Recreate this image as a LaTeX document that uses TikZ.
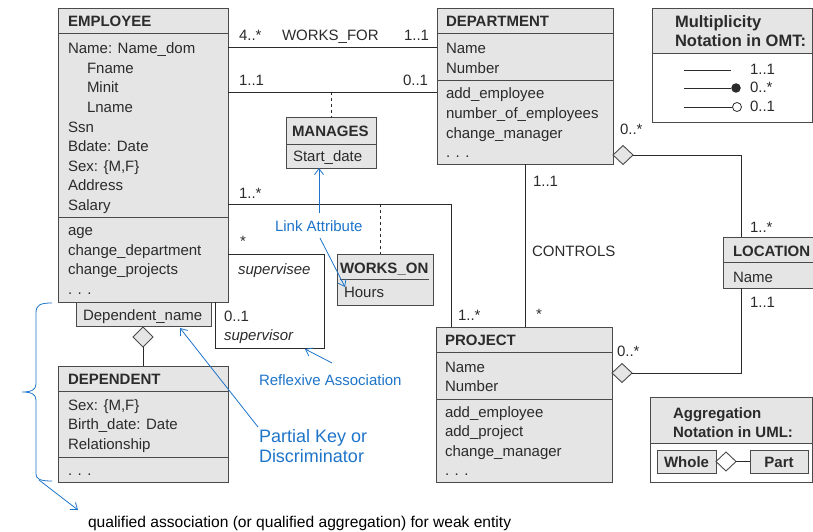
\documentclass[tikz,border=0pt]{standalone}
\usepackage{fontspec}
\setmainfont{Liberation Sans}
\usetikzlibrary{arrows.meta,shapes.geometric,calc}
\definecolor{boxfill}{HTML}{E5E5E5}
\definecolor{boxline}{HTML}{4A4A4A}
\definecolor{ink}{HTML}{2B2B2B}
\definecolor{notec}{HTML}{1E74C9}
\newcommand\txtlines[5]{%
  \foreach \t [count=\i] in {#5} \node[#2] (#1\i) at (#3, {#4+19.5*(\i-1)}) {\t};}
\begin{document}
\begin{tikzpicture}[x=1pt,y=-1pt,
  box/.style={draw=boxline, fill=boxfill, line width=1pt, inner sep=0pt, outer sep=0pt, anchor=north west},
  legend/.style={draw=boxline, fill=white, line width=1pt, inner sep=0pt, outer sep=0pt, anchor=north west},
  divider/.style={draw=boxline, line width=1pt},
  conn/.style={draw=ink, line width=0.9pt},
  dia/.style={diamond, draw=boxline, fill=boxfill, line width=0.9pt, inner sep=0pt, outer sep=0pt, minimum width=20pt, minimum height=19pt},
  txt/.style={anchor=base west, inner sep=0pt, outer sep=0pt, text=ink, font=\fontsize{15}{18}\selectfont},
  btxt/.style={txt, font=\fontsize{15}{18}\selectfont\bfseries},
  itxt/.style={txt, font=\fontsize{15}{18}\selectfont\itshape},
  ntxt/.style={txt, text=notec},
  narrow/.style={draw=notec, line width=0.8pt, -{Straight Barb[length=6pt,width=9pt]}}
]
\useasboundingbox (0,0) rectangle (813,532);

% ---------- EMPLOYEE ----------
\node[box, minimum width=170pt, minimum height=293pt] (emp) at (58,9) {};
\draw[divider] (emp.west |- 0,34) -- (emp.east |- 0,34);
\draw[divider] (emp.west |- 0,217) -- (emp.east |- 0,217);
\node[btxt] (empt) at (68,27) {EMPLOYEE};
\txtlines{ea}{txt}{68}{54}{{Name: Name\_dom},{\hspace*{19pt}Fname},{\hspace*{19pt}Minit},{\hspace*{19pt}Lname},Ssn,{Bdate: Date},{Sex: \{M,F\}},Address,Salary}
\txtlines{em}{txt}{68}{235.5}{age,{change\_department},{change\_projects},{. . .}}

% ---------- DEPARTMENT ----------
\node[box, minimum width=176pt, minimum height=155pt] (dept) at (437,9) {};
\draw[divider] (dept.west |- 0,34) -- (dept.east |- 0,34);
\draw[divider] (dept.west |- 0,81) -- (dept.east |- 0,81);
\node[btxt] (deptt) at (446,27) {DEPARTMENT};
\txtlines{da}{txt}{446}{54}{Name,Number}
\txtlines{dm}{txt}{446}{99}{{add\_employee},{number\_of\_employees},{change\_manager},{. . .}}

% ---------- MANAGES ----------
\node[box, minimum width=90pt, minimum height=50pt] (manages) at (286,118) {};
\draw[divider] (manages.west |- 0,144) -- (manages.east |- 0,144);
\node[btxt] (mant) at (292,136) {MANAGES};
\node[txt] (mana) at (293,161) {Start\_date};

% ---------- WORKS_ON ----------
\node[box, minimum width=96pt, minimum height=51pt] (workson) at (337,254) {};
\draw[divider] (340,279) -- (429,279);
\node[btxt] (wot) at (340,273) {WORKS\_ON};
\node[txt] (woa) at (344,297) {Hours};

% ---------- PROJECT ----------
\node[box, minimum width=176pt, minimum height=155pt] (proj) at (436,327) {};
\draw[divider] (proj.west |- 0,352) -- (proj.east |- 0,352);
\draw[divider] (proj.west |- 0,399) -- (proj.east |- 0,399);
\node[btxt] (projt) at (445,345) {PROJECT};
\txtlines{pa}{txt}{445}{372}{Name,Number}
\txtlines{pm}{txt}{445}{417}{{add\_employee},{add\_project},{change\_manager},{. . .}}

% ---------- LOCATION ----------
\node[box, minimum width=95pt, minimum height=51pt] (loc) at (723,237) {};
\draw[divider] (loc.west |- 0,262) -- (loc.east |- 0,262);
\node[btxt] (loct) at (733,256) {LOCATION};
\node[txt] (loca) at (733,282) {Name};

% ---------- Dependent_name qualifier ----------
\node[box, minimum width=135pt, minimum height=24pt] (depname) at (76,302) {};
\node[txt] (depnamet) at (83,320) {Dependent\_name};

% ---------- DEPENDENT ----------
\node[box, minimum width=170pt, minimum height=116pt] (dependent) at (58,366) {};
\draw[divider] (dependent.west |- 0,391) -- (dependent.east |- 0,391);
\draw[divider] (dependent.west |- 0,457) -- (dependent.east |- 0,457);
\node[btxt] (dept2t) at (68,384) {DEPENDENT};
\txtlines{pd}{txt}{68}{410}{{Sex: \{M,F\}},{Birth\_date: Date},Relationship}
\node[txt] (pddots) at (68,475) {. . .};

% ---------- Multiplicity legend ----------
\node[legend, minimum width=160pt, minimum height=114pt] (omt) at (652,9) {};
\fill[boxfill] ([xshift=0.5pt,yshift=-0.5pt]omt.north west) rectangle (811.5,54);
\draw[divider] (omt.west |- 0,54) -- (omt.east |- 0,54);
\node[legend, fill=none, minimum width=160pt, minimum height=114pt] (omtb) at (652,9) {};
\node[btxt, font=\fontsize{16.5}{19}\selectfont\bfseries] (omt1) at (675,28) {Multiplicity};
\node[btxt, font=\fontsize{16.5}{19}\selectfont\bfseries] (omt2) at (675,47) {Notation in OMT:};
\coordinate (l1a) at (684,70);
\coordinate (l1b) at (731,70);
\draw[conn] (l1a) -- (l1b);
\node[txt] (l1t) at (750,75) {1..1};
\coordinate (l2a) at (684,88);
\node[circle, fill=ink, inner sep=0pt, minimum size=9.5pt] (dot2) at (736,88) {};
\draw[conn] (l2a) -- (dot2);
\node[txt] (l2t) at (750,93) {0..*};
\coordinate (l3a) at (684,107);
\node[circle, draw=ink, fill=white, line width=0.8pt, inner sep=0pt, minimum size=9pt] (dot3) at (737,107) {};
\draw[conn] (l3a) -- (dot3);
\node[txt] (l3t) at (750,112) {0..1};

% ---------- Aggregation legend ----------
\node[legend, minimum width=162pt, minimum height=85pt] (agg) at (650,397) {};
\fill[boxfill] ([xshift=0.5pt,yshift=-0.5pt]agg.north west) rectangle (811.5,443);
\draw[divider] (agg.west |- 0,443) -- (agg.east |- 0,443);
\node[legend, fill=none, minimum width=162pt, minimum height=85pt] (aggb) at (650,397) {};
\node[btxt] (agg1) at (673,418) {Aggregation};
\node[btxt] (agg2) at (673,437) {Notation in UML:};
\node[box, minimum width=59pt, minimum height=23pt] (whole) at (657,450) {};
\node[btxt, anchor=base] (wholet) at (686.5,467) {Whole};
\node[box, minimum width=58pt, minimum height=23pt] (part) at (750,450) {};
\node[btxt, anchor=base] (partt) at (779,467) {Part};
\node[dia, fill=white, minimum width=20pt, minimum height=19pt, anchor=west] (d4) at (whole.east) {};
\draw[conn] (d4.east) -- (part.west |- d4.east);

% ---------- Associations ----------
% WORKS_FOR
\draw[conn] (emp.east |- 0,47) -- (dept.west |- 0,47);
\node[txt] (wf1) at (239,41) {4..*};
\node[txt] (wfn) at (282,41) {WORKS\_FOR};
\node[txt] (wf2) at (404,41) {1..1};
% MANAGES
\draw[conn] (emp.east |- 0,92) -- (dept.west |- 0,92);
\node[txt] (mg1) at (239,86) {1..1};
\node[txt] (mg2) at (403,86) {0..1};
\draw[conn, dashed] (manages.north |- 0,92) -- (manages.north);
% WORKS_ON
\draw[conn] (emp.east |- 0,204) -| (proj.north -| 451,0);
\node[txt] (wo1) at (239,198) {1..*};
\node[txt] (wo2) at (458,320) {1..*};
\draw[conn, dashed] (380,204) -- (workson.north -| 380,0);
% CONTROLS
\draw[conn] (dept.south -| 525,0) -- (proj.north -| 525,0);
\node[txt] (ct1) at (533,186) {1..1};
\node[txt] (ctn) at (532,256) {CONTROLS};
\node[txt] (ct2) at (536,319) {*};
% DEPARTMENT -- LOCATION aggregation
\node[dia] (d1) at (623,155) {};
\draw[conn] (d1.east) -| (loc.north -| 741,0);
\node[txt] (dl1) at (620,134) {0..*};
\node[txt] (dl2) at (750,232) {1..*};
% LOCATION -- PROJECT aggregation
\node[dia] (d2) at (622,373) {};
\draw[conn] (loc.south -| 741,0) |- (d2.east);
\node[txt] (lp1) at (750,307) {1..1};
\node[txt] (lp2) at (617,356) {0..*};
% Reflexive supervision
\coordinate (r1) at (324,254);
\coordinate (r2) at (324,348);
\coordinate (r3) at (215,348);
\draw[conn] (emp.east |- r1) -- (r1) -- (r2) -- (r3) -- (emp.south -| r3);
\node[txt] (rf1) at (240,246) {*};
\node[itxt] (rf2) at (238,274) {supervisee};
\node[txt] (rf3) at (224,321) {0..1};
\node[itxt] (rf4) at (224,340) {supervisor};
% Qualified aggregation to DEPENDENT
\node[dia, minimum height=20pt] (d3) at (143,337) {};
\draw[conn] (d3.south) -- (dependent.north -| d3.south);

% ---------- Blue annotations ----------
\node[ntxt] (la) at (275,231) {Link Attribute};
\draw[narrow] (319,213) -- (manages.south -| 319,0);
\draw[narrow] (320,238) -- (345,287);
\node[ntxt] (ra) at (259,385) {Reflexive Association};
\draw[narrow] (332,363) -- (305,349);
\node[ntxt, font=\fontsize{18}{20}\selectfont] (pk1) at (259,442) {Partial Key or};
\node[ntxt, font=\fontsize{18}{20}\selectfont] (pk2) at (259,462) {Discriminator};
\draw[narrow] (258,427) -- (180,328);
% brace
\draw[notec, line width=0.8pt] (52,303) .. controls (40,303) and (36,305) .. (36,313) -- (36,384)
   .. controls (36,390) and (31,392) .. (22,392) .. controls (31,392) and (36,394) .. (36,400)
   -- (36,474) .. controls (36,479) and (40,481) .. (52,481);
\coordinate (br) at (39,480);
\coordinate (brt) at (78,510);
\draw[narrow] (br) -- (brt);
\node[txt, text=black, font=\fontsize{15.6}{18}\selectfont] (qa) at (88,527) {qualified association (or qualified aggregation) for weak entity};
\end{tikzpicture}
\end{document}
